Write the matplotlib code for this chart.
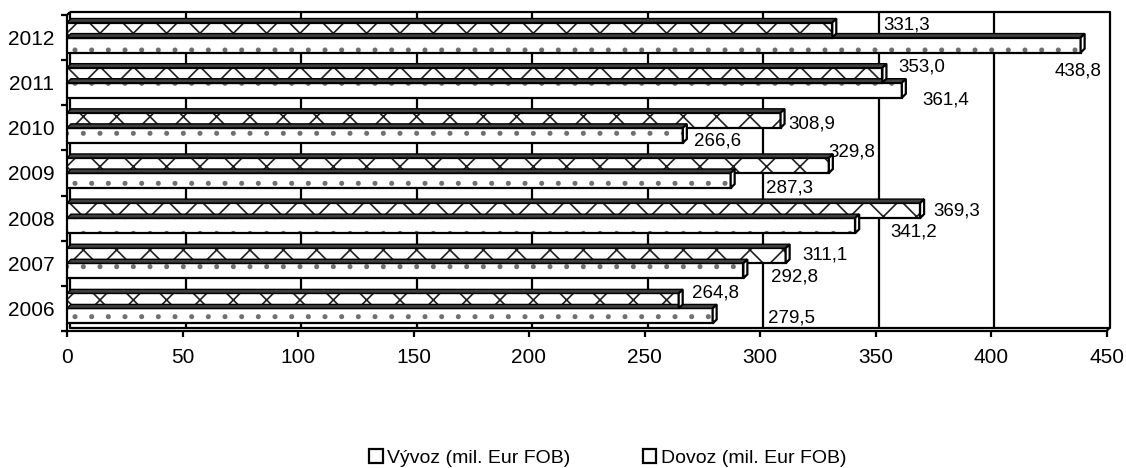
import matplotlib
matplotlib.use("Agg")
import matplotlib.pyplot as plt
from matplotlib.patches import Polygon, Patch
import numpy as np

plt.rcParams['font.family'] = ['Liberation Sans', 'DejaVu Sans']
plt.rcParams['hatch.linewidth'] = 1.2

years = ['2006', '2007', '2008', '2009', '2010', '2011', '2012']
vyvoz = [279.5, 292.8, 341.2, 287.3, 266.6, 361.4, 438.8]
dovoz = [264.8, 311.1, 369.3, 329.8, 308.9, 353.0, 331.3]
series_names = ['Vývoz (mil. Eur FOB)', 'Dovoz (mil. Eur FOB)']

# label offsets in pixels (dx from bar end, dy from bar centre; + = down)
vyvoz_label_off = [(55, 2), (28, 6), (35, 6.5), (35, 7.5), (11, 6), (21, 10), (-26, 25.5)]
dovoz_label_off = [(13, -8), (17, -1), (13, 0), (0, -13.5), (8, 4), (16, -8), (51, -5.5)]

W, H = 1126, 468
fig = plt.figure(figsize=(W / 100, H / 100), dpi=100)
ax = fig.add_axes([67 / W, (H - 331) / H, (1106.5 - 67) / W, 316 / H])
ax.set_xlim(0, 450)
ax.set_ylim(-0.5, 6.5)
for s in ax.spines.values():
    s.set_visible(False)

px_x = 450 / (1106.5 - 67)   # data units per pixel, x
px_y = 7 / 316               # data units per pixel, y
dx, dy = 3 * px_x, 3 * px_y       # wall depth
bdx, bdy = 4 * px_x, 4 * px_y     # bar depth

lw = 1.6
ys = np.arange(len(years))
xt = np.arange(0, 451, 50)

# back wall, gridlines and floor
kw = dict(color='black', lw=lw, clip_on=False, zorder=1, solid_capstyle='butt')
for x in xt[1:-1]:
    ax.plot([x + dx, x + dx], [-0.5 + dy, 6.5 + dy], **kw)
ax.plot([dx, 450 + dx, 450 + dx, dx, dx], [6.5 + dy, 6.5 + dy, -0.5 + dy, -0.5 + dy, 6.5 + dy], **kw)
ax.plot([0, 450, 450 + dx], [-0.5, -0.5, -0.5 + dy], **kw)
ax.plot([0, 0, dx], [-0.5, 6.5, 6.5 + dy], **kw)

h = 1 / 3
def draw_bars(vals, offs, hatch, hatch_color):
    for y, v in zip(ys, vals):
        yc = y + offs
        bot, top = yc - h / 2, yc + h / 2
        ax.barh(yc, v, height=h, left=0, color='white', edgecolor=hatch_color,
                lw=0, hatch=hatch, zorder=3)
        ax.barh(yc, v, height=h, left=0, color='none', edgecolor='black',
                lw=lw, zorder=3.5)
        ax.add_patch(Polygon([(0, top), (v, top), (v + bdx, top + bdy), (bdx, top + bdy)],
                             closed=True, facecolor='#404040', edgecolor='black',
                             lw=1.0, zorder=4))
        ax.add_patch(Polygon([(v, bot), (v + bdx, bot + bdy), (v + bdx, top + bdy), (v, top)],
                             closed=True, facecolor='white', edgecolor='black',
                             lw=lw, zorder=4))

draw_bars(vyvoz, -h / 2, '.', '#707070')
draw_bars(dovoz, h / 2, 'x', '#202020')

def fmt(v):
    return f"{v:.1f}".replace('.', ',')

for y, v, (ox, oy) in zip(ys, vyvoz, vyvoz_label_off):
    ax.annotate(fmt(v), (v, y - h / 2), xytext=(ox, -oy), textcoords='offset pixels',
                ha='left', va='center', fontsize=13.5, zorder=6)
for y, v, (ox, oy) in zip(ys, dovoz, dovoz_label_off):
    ax.annotate(fmt(v), (v, y + h / 2), xytext=(ox, -oy), textcoords='offset pixels',
                ha='left', va='center', fontsize=13.5, zorder=6)

ax.set_xticks(xt)
ax.set_xticklabels([str(x) for x in xt], fontsize=15)
ax.tick_params(axis='x', direction='out', length=4, width=lw, pad=8)
ax.set_yticks(np.arange(-0.5, 7, 1))
ax.set_yticklabels([])
ax.tick_params(axis='y', which='major', direction='out', length=4, width=lw)
ax.set_yticks(ys, minor=True)
ax.set_yticklabels(years, minor=True, fontsize=15)
ax.tick_params(axis='y', which='minor', length=0, pad=9)

handles = [Patch(facecolor='white', edgecolor='black', lw=1.6) for _ in series_names]
leg = fig.legend(handles, series_names, loc='center left', bbox_to_anchor=(369 / W, 1 - 458 / H),
                 ncol=2, frameon=False, fontsize=14, handlelength=0.7, handleheight=0.7,
                 handletextpad=0.25, columnspacing=3.7, borderaxespad=0, borderpad=0)

fig.savefig('out.png', dpi=100)
